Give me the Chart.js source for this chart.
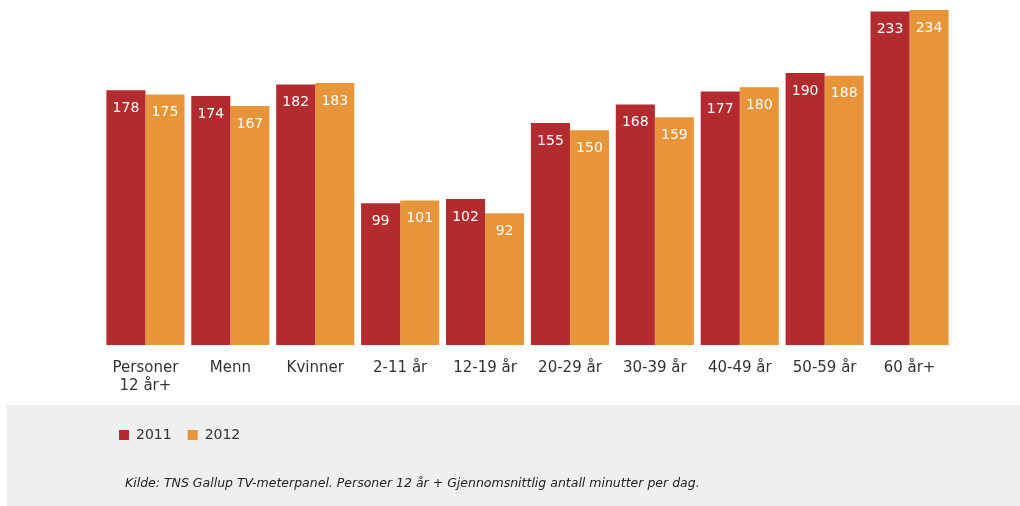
<!DOCTYPE html>
<html>
<head>
<meta charset="utf-8">
<script src="https://cdn.jsdelivr.net/npm/chart.js@4"></script>
<style>
  html, body { margin: 0; padding: 0; background: #fff; }
  #wrap { width: 1020px; height: 506px; }
</style>
</head>
<body>
<div id="wrap"><canvas id="myChart"></canvas></div>
<script>
const categories = [
    ["Personer", "12 år+"],
    "Menn",
    "Kvinner",
    "2-11 år",
    "12-19 år",
    "20-29 år",
    "30-39 år",
    "40-49 år",
    "50-59 år",
    "60 år+",
];

const values2011 = [178, 174, 182, 99, 102, 155, 168, 177, 190, 233];
const values2012 = [175, 167, 183, 101, 92, 150, 159, 180, 188, 234];

const sourceText = "Kilde: TNS Gallup TV-meterpanel. Personer 12 år + Gjennomsnittlig antall minutter per dag.";

const FONT = "'DejaVu Sans', Verdana, sans-serif";

// grey footer box + source line
const footer = {
    id: "footer",
    beforeDraw(chart) {
        const c = chart.ctx;
        const top = chart.chartArea.bottom + 60;
        c.save();
        c.fillStyle = "#efefef";
        c.fillRect(7, top, chart.width - 7, chart.height - top);
        c.restore();
    },
    afterDraw(chart) {
        const c = chart.ctx;
        c.save();
        c.fillStyle = "#222";
        c.font = "italic 12.5px " + FONT;
        c.textBaseline = "middle";
        c.fillText(sourceText, 125, chart.height - 22);
        c.restore();
    }
};

// white value labels inside the bar tops
const valueLabels = {
    id: "valueLabels",
    afterDatasetsDraw(chart) {
        const c = chart.ctx;
        c.save();
        c.fillStyle = "#fff";
        c.font = "14px " + FONT;
        c.textAlign = "center";
        c.textBaseline = "middle";
        chart.data.datasets.forEach((ds, i) => {
            chart.getDatasetMeta(i).data.forEach((bar, j) => {
                c.fillText(ds.data[j], bar.x, bar.y + 18);
            });
        });
        c.restore();
    }
};

const ctx = document.getElementById("myChart").getContext("2d");

const myChart = new Chart(ctx, {
    type: "bar",
    data: {
        labels: categories,
        datasets: [
            { label: "2011", data: values2011, backgroundColor: "#b32b2e" },
            { label: "2012", data: values2012, backgroundColor: "#e8953a" },
        ],
    },
    options: {
        responsive: true,
        maintainAspectRatio: false,
        animation: false,
        datasets: {
            bar: { categoryPercentage: 0.92, barPercentage: 1.0 }
        },
        layout: {
            padding: { top: 10, left: 103, right: 68, bottom: 54 }
        },
        scales: {
            x: {
                grid: { display: false, drawTicks: false },
                border: { display: false },
                ticks: {
                    color: "#333",
                    padding: 14,
                    maxRotation: 0,
                    autoSkip: false,
                    font: { family: FONT, size: 15, lineHeight: 1.2 }
                },
                afterFit(scale) { scale.height = 67; }
            },
            y: {
                display: false,
                min: 0,
                max: 234,
            }
        },
        plugins: {
            legend: {
                position: "bottom",
                align: "start",
                labels: {
                    color: "#333",
                    boxWidth: 10,
                    boxHeight: 10,
                    padding: 16,
                    font: { family: FONT, size: 14 }
                }
            },
            tooltip: { enabled: false }
        }
    },
    plugins: [footer, valueLabels],
});
</script>
</body>
</html>
